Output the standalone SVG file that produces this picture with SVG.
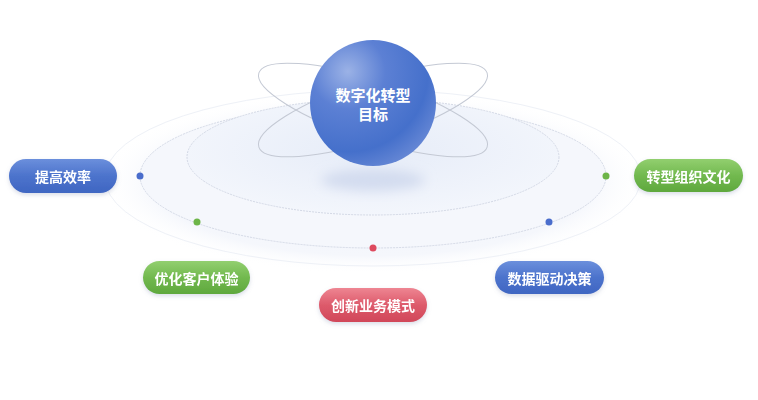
<svg xmlns="http://www.w3.org/2000/svg" width="758" height="400" viewBox="0 0 758 400">
<defs>
  <radialGradient id="glow" cx="0.5" cy="0.5" r="0.5">
    <stop offset="0" stop-color="#eef2fa"/>
    <stop offset="0.8" stop-color="#f5f7fc"/>
    <stop offset="1" stop-color="#ffffff" stop-opacity="0"/>
  </radialGradient>
  <radialGradient id="inner" cx="0.5" cy="0.45" r="0.55">
    <stop offset="0" stop-color="#e6ecf8"/>
    <stop offset="1" stop-color="#f3f6fc"/>
  </radialGradient>
  <radialGradient id="sphere" cx="0.3" cy="0.25" r="0.85">
    <stop offset="0" stop-color="#9bb2e6"/>
    <stop offset="0.35" stop-color="#5c80d4"/>
    <stop offset="0.75" stop-color="#4570cb"/>
    <stop offset="1" stop-color="#6a8ad6"/>
  </radialGradient>
  <linearGradient id="gBlue" x1="0" y1="0" x2="0" y2="1">
    <stop offset="0" stop-color="#6b8fdc"/>
    <stop offset="0.5" stop-color="#4c73cc"/>
    <stop offset="1" stop-color="#3f66c2"/>
  </linearGradient>
  <linearGradient id="gGreen" x1="0" y1="0" x2="0" y2="1">
    <stop offset="0" stop-color="#92cf6f"/>
    <stop offset="0.5" stop-color="#72b94f"/>
    <stop offset="1" stop-color="#5fa83d"/>
  </linearGradient>
  <linearGradient id="gRed" x1="0" y1="0" x2="0" y2="1">
    <stop offset="0" stop-color="#ee8592"/>
    <stop offset="0.5" stop-color="#dd5a6b"/>
    <stop offset="1" stop-color="#d14759"/>
  </linearGradient>
  <filter id="blur8" x="-20%" y="-50%" width="140%" height="200%"><feGaussianBlur stdDeviation="6"/></filter>
  <filter id="pillShadow" x="-20%" y="-40%" width="140%" height="200%">
    <feDropShadow dx="0" dy="2" stdDeviation="2" flood-color="#8090b0" flood-opacity="0.3"/>
  </filter>
</defs>
<style>
  .pill-text{font-family:"Noto Sans CJK SC","Noto Sans",sans-serif;font-size:14px;font-weight:700;fill:#ffffff;text-anchor:middle;dominant-baseline:central}
  .title{font-family:"Noto Sans CJK SC","Noto Sans",sans-serif;font-size:15px;font-weight:700;fill:#ffffff;text-anchor:middle;dominant-baseline:central}
  .orbit{fill:none;stroke:#c4c9d4;stroke-width:1}
  .ring{stroke:#cfd5e2;stroke-width:0.9;stroke-dasharray:2 1}
</style>
<rect width="758" height="400" fill="#ffffff"/>

<g id="platform">
  <ellipse cx="373" cy="182" rx="275" ry="92" fill="url(#glow)"/>
  <ellipse cx="373" cy="178" rx="268" ry="88" fill="none" stroke="#eef1f7" stroke-width="1"/>
  <ellipse cx="373" cy="176" rx="233" ry="72" fill="#f5f7fc" class="ring"/>
  <ellipse cx="373" cy="157" rx="186" ry="58" fill="url(#inner)" class="ring"/>
  <ellipse cx="373" cy="180" rx="52" ry="11" fill="#d3dcef" filter="url(#blur8)"/>
</g>

<g id="orbits">
  <ellipse class="orbit" cx="373" cy="110" rx="120" ry="30" transform="rotate(18 373 110)"/>
  <ellipse class="orbit" cx="373" cy="110" rx="120" ry="30" transform="rotate(-18 373 110)"/>
</g>

<g id="center">
  <circle cx="373" cy="103" r="63" fill="url(#sphere)"/>
  <text class="title" x="373" y="94">数字化转型</text>
  <text class="title" x="373" y="113">目标</text>
</g>

<g id="connectors">
  <circle cx="140" cy="176" r="3.5" fill="#4a6dcc"/>
  <circle cx="197" cy="222" r="3.5" fill="#6db548"/>
  <circle cx="373" cy="248" r="3.5" fill="#de4a5e"/>
  <circle cx="549" cy="222" r="3.5" fill="#4a6dcc"/>
  <circle cx="606" cy="176" r="3.5" fill="#6db548"/>
</g>

<g id="node-efficiency" filter="url(#pillShadow)">
  <rect x="9" y="159" width="108" height="34" rx="17" fill="url(#gBlue)"/>
  <text class="pill-text" x="63" y="176">提高效率</text>
</g>
<g id="node-customer" filter="url(#pillShadow)">
  <rect x="143" y="261" width="107" height="33" rx="16.5" fill="url(#gGreen)"/>
  <text class="pill-text" x="196.5" y="277.5">优化客户体验</text>
</g>
<g id="node-innovation" filter="url(#pillShadow)">
  <rect x="319" y="288" width="108" height="34" rx="17" fill="url(#gRed)"/>
  <text class="pill-text" x="373" y="305">创新业务模式</text>
</g>
<g id="node-data" filter="url(#pillShadow)">
  <rect x="495" y="261" width="109" height="33" rx="16.5" fill="url(#gBlue)"/>
  <text class="pill-text" x="549.5" y="277.5">数据驱动决策</text>
</g>
<g id="node-culture" filter="url(#pillShadow)">
  <rect x="634" y="159" width="109" height="33" rx="16.5" fill="url(#gGreen)"/>
  <text class="pill-text" x="688.5" y="175.5">转型组织文化</text>
</g>
</svg>
